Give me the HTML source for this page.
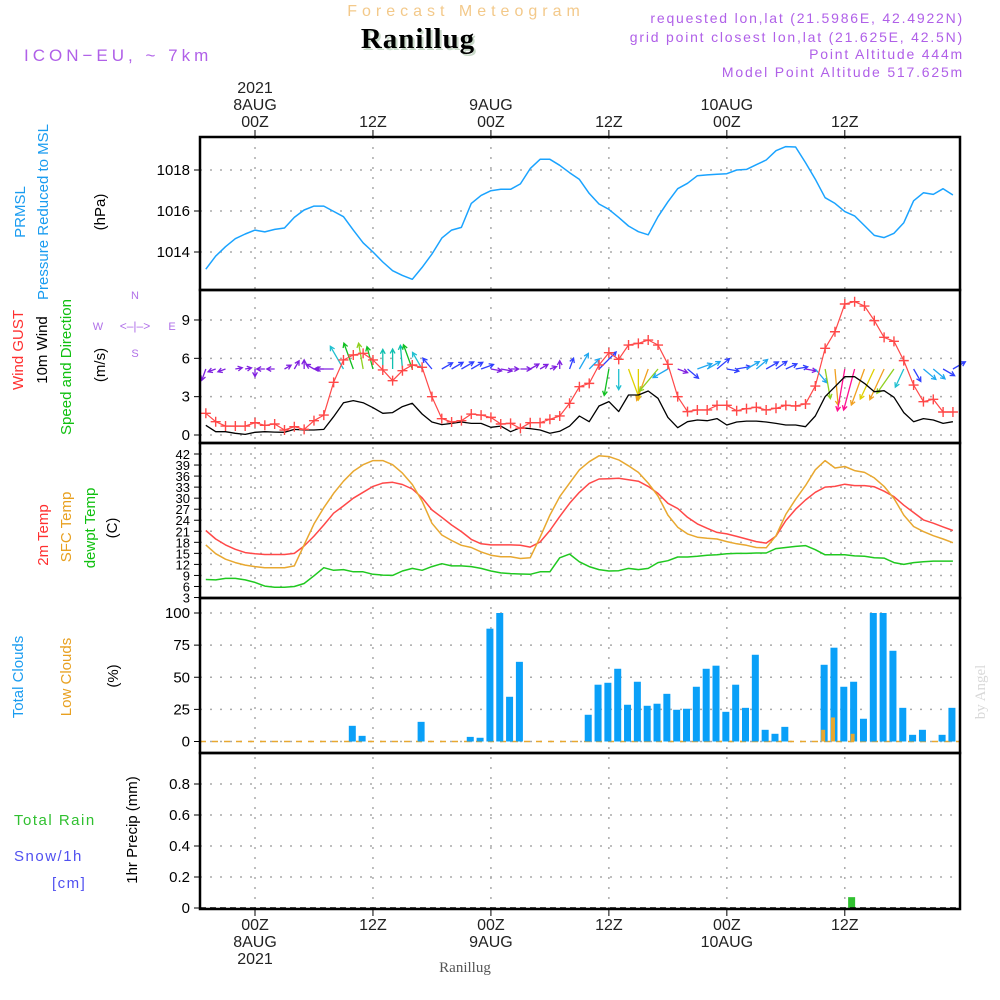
<!DOCTYPE html>
<html><head><meta charset="utf-8"><style>
html,body{margin:0;padding:0;background:#fff;width:1000px;height:1000px;overflow:hidden}
svg{display:block}
text{font-family:"Liberation Sans",sans-serif}
</style></head><body>
<svg id="chart" width="1000" height="1000" viewBox="0 0 1000 1000" xmlns="http://www.w3.org/2000/svg">
<g>
<text x="466" y="16" text-anchor="middle" font-size="16" fill="#f3c98a" letter-spacing="5">Forecast Meteogram</text>
<text x="420" y="50" text-anchor="middle" font-size="29" font-weight="bold" fill="#c9d9c9" letter-spacing="1" style="font-family:'Liberation Serif',serif">Ranillug</text>
<text x="418" y="48" text-anchor="middle" font-size="29" font-weight="bold" fill="#000" letter-spacing="1" style="font-family:'Liberation Serif',serif">Ranillug</text>
<text x="24" y="61" font-size="17" fill="#b060e8" letter-spacing="4">ICON−EU, ~ 7km</text>
<text x="964" y="23" text-anchor="end" font-size="14" fill="#b060e8" letter-spacing="1.8">requested lon,lat (21.5986E, 42.4922N)</text>
<text x="964" y="42" text-anchor="end" font-size="14" fill="#b060e8" letter-spacing="1.8">grid point closest lon,lat (21.625E, 42.5N)</text>
<text x="964" y="59" text-anchor="end" font-size="14" fill="#b060e8" letter-spacing="1.8">Point Altitude 444m</text>
<text x="964" y="77" text-anchor="end" font-size="14" fill="#b060e8" letter-spacing="1.8">Model Point Altitude 517.625m</text>
</g>
<g font-size="15">
<text transform="translate(25,212) rotate(-90)" text-anchor="middle" fill="#1a9cf0">PRMSL</text>
<text transform="translate(48,212) rotate(-90)" text-anchor="middle" fill="#1a9cf0">Pressure Reduced to MSL</text>
<text transform="translate(105,212) rotate(-90)" text-anchor="middle" fill="#000">(hPa)</text>
<text transform="translate(23,350) rotate(-90)" text-anchor="middle" fill="#ff3030">Wind GUST</text>
<text transform="translate(47,350) rotate(-90)" text-anchor="middle" fill="#000">10m Wind</text>
<text transform="translate(71,367) rotate(-90)" text-anchor="middle" fill="#10c010">Speed and Direction</text>
<text transform="translate(105,365) rotate(-90)" text-anchor="middle" fill="#000">(m/s)</text>
<text transform="translate(48,535) rotate(-90)" text-anchor="middle" fill="#ff3030">2m Temp</text>
<text transform="translate(71,527) rotate(-90)" text-anchor="middle" fill="#e8a020">SFC Temp</text>
<text transform="translate(95,528) rotate(-90)" text-anchor="middle" fill="#10c010">dewpt Temp</text>
<text transform="translate(117,528) rotate(-90)" text-anchor="middle" fill="#000">(C)</text>
<text transform="translate(23,677) rotate(-90)" text-anchor="middle" fill="#1a9cf0">Total Clouds</text>
<text transform="translate(71,677) rotate(-90)" text-anchor="middle" fill="#e8a020">Low Clouds</text>
<text transform="translate(118,676) rotate(-90)" text-anchor="middle" fill="#000">(%)</text>
<text x="14" y="825" fill="#30c030" letter-spacing="1.5">Total   Rain</text>
<text x="14" y="861" fill="#5050f0" letter-spacing="1.5">Snow/1h</text>
<text x="52" y="888" fill="#5050f0" letter-spacing="1.5">[cm]</text>
<text transform="translate(137,830) rotate(-90)" text-anchor="middle" fill="#000">1hr Precip (mm)</text>
</g>
<g fill="#b070e8" font-size="11" text-anchor="middle">
<text x="135" y="299">N</text>
<text x="135" y="357">S</text>
<text x="98" y="330">W</text>
<text x="172" y="330">E</text>
<text x="135" y="330" font-size="12">&lt;–|–&gt;</text>
</g>
<text transform="translate(985,692) rotate(-90)" text-anchor="middle" font-size="15" fill="#d8d8d8" style="font-family:'Liberation Serif',serif">by Angel</text>
<text x="465" y="972" text-anchor="middle" font-size="15" fill="#555" style="font-family:'Liberation Serif',serif">Ranillug</text>
<g id="plot"></g>
</svg>
<script>
const hours=[];for(let h=-5;h<=71;h++)hours.push(h);
const pressure=[1013.16,1013.8,1014.26,1014.65,1014.88,1015.07,1014.98,1015.1,1015.17,1015.69,1016.05,1016.24,1016.24,1015.98,1015.72,1015.07,1014.45,1014.0,1013.51,1013.09,1012.86,1012.67,1013.25,1013.9,1014.68,1015.07,1015.2,1016.37,1016.76,1016.99,1017.06,1017.06,1017.32,1018.07,1018.52,1018.52,1018.23,1017.87,1017.54,1016.86,1016.34,1016.08,1015.69,1015.27,1014.99,1014.84,1015.72,1016.45,1017.09,1017.35,1017.72,1017.76,1017.79,1017.82,1018.0,1018.03,1018.26,1018.49,1018.94,1019.14,1019.12,1018.36,1017.55,1016.65,1016.37,1015.97,1015.76,1015.29,1014.81,1014.7,1014.91,1015.43,1016.5,1016.89,1016.81,1017.09,1016.78];
const gust=[1.7,1.04,0.7,0.7,0.7,0.96,0.76,0.86,0.39,0.65,0.44,1.12,1.56,4.12,5.87,6.26,6.39,5.87,5.09,4.25,5.03,5.48,5.3,3.0,1.28,1.02,1.12,1.64,1.56,1.38,0.86,0.91,0.52,0.96,0.96,1.23,1.49,2.48,3.78,4.04,5.48,6.44,5.92,7.04,7.17,7.43,7.04,5.53,3.0,1.83,1.96,1.96,2.32,2.32,1.9,2.06,2.17,1.96,2.09,2.32,2.27,2.43,3.83,6.78,8.08,10.25,10.43,10.09,8.95,7.64,7.33,5.82,3.91,2.61,2.79,1.8,1.8];
const wind=[0.76,0.26,0.26,0.13,0.05,0.21,0.26,0.23,0.21,0.44,0.39,0.39,0.44,1.43,2.53,2.69,2.53,2.14,1.7,1.75,2.22,2.48,1.64,1.02,0.81,0.91,1.02,0.91,0.91,0.6,0.7,0.26,0.57,0.5,0.39,0.13,0.29,0.7,1.49,1.04,2.27,2.61,1.83,3.13,3.13,3.44,2.87,1.38,0.57,1.04,1.17,1.12,1.28,0.78,1.02,1.09,1.09,1.02,0.91,0.78,0.78,0.65,1.49,3.0,3.78,4.56,4.56,4.04,3.39,3.47,2.95,1.75,1.04,1.28,1.17,0.91,1.04];
const windDir=[200,250,250,80,80,180,270,270,60,30,0,300,270,270,330,340,350,345,0,0,355,340,330,320,60,60,60,60,70,100,100,90,90,60,60,70,0,20,30,45,45,190,180,160,180,200,220,240,110,130,70,60,50,100,80,60,50,60,55,65,80,100,140,170,175,190,195,200,205,205,215,205,150,130,130,120,60];
const windColor=["#8020e0","#8020e0","#8020e0","#8020e0","#8020e0","#8020e0","#8020e0","#8020e0","#8020e0","#8020e0","#8020e0","#8020e0","#8020e0","#8020e0","#20c0d0","#10c020","#90d020","#10c020","#10c0b0","#10c0b0","#10c0b0","#10c020","#20c0d0","#3040ff","#3040ff","#3040ff","#3040ff","#3040ff","#3040ff","#8020e0","#8020e0","#8020e0","#8020e0","#8020e0","#8020e0","#8020e0","#8020e0","#3040ff","#20a8f0","#20a8f0","#3040ff","#10c020","#20c0d0","#e0d000","#e0d000","#f0a020","#90d020","#20a8f0","#8020e0","#3040ff","#20a8f0","#20a8f0","#3040ff","#3040ff","#3040ff","#20a8f0","#20a8f0","#3040ff","#3040ff","#3040ff","#3040ff","#8020e0","#20a8f0","#90d020","#f0a020","#ff1090","#ff1090","#f0a020","#e0d000","#f0a020","#90d020","#20c0d0","#3040ff","#20a8f0","#20a8f0","#3040ff","#3040ff"];
const temp2m=[21.2,18.9,17.3,16.1,15.2,14.9,14.7,14.7,14.7,15.0,17.0,19.7,22.7,25.9,27.9,30,31.6,33.2,34.1,34.3,33.7,32.5,30.1,26.8,24.8,22.7,20.9,18.8,17.6,17.3,17.3,17.3,17.2,16.7,18.1,21.2,25,28.6,31.6,34,35.2,35.3,35.4,35,34.6,33.2,31.3,28.6,27.2,24.8,23,21.8,20.7,20.3,19.6,18.9,18.2,17.8,19.7,23.9,27,29.5,31.6,33,33.2,33.8,33.4,33.4,33.1,31.9,30.4,28.1,26.1,24.1,23.2,22.2,21.2];
const tempSfc=[17.3,14.9,13.4,12.5,11.8,11.4,11.1,11.1,11.1,11.6,17.3,23,27.4,31.3,34.6,37.3,39.1,40.2,40.2,39.1,36.8,33.7,29.2,23.2,20,18.5,17.2,16.6,15.4,14.5,14.1,14.1,13.6,13.8,19.4,25.4,30.4,34.1,37.7,39.9,41.5,41.3,40.4,38.8,37,34.1,30.6,25.4,22.1,20.3,19.4,19.1,18.9,18.2,17.6,17.2,16.6,16.5,19.8,25.6,29.7,33.4,37.7,40.2,38.2,38.6,37.5,37,35.5,33.2,29.9,25.4,22.3,20.9,19.8,18.9,17.9];
const dewpt=[7.9,7.8,8.2,8.2,7.8,7.1,6.1,5.8,5.8,6.0,6.8,8.9,11.1,10.4,10.6,10,10,9.3,9.1,9.0,10.2,10.9,10.4,11.4,12.2,11.6,11.6,11.4,10.9,10.2,9.7,9.5,9.4,9.3,10,10,13.8,14.8,12.7,11.4,10.6,10.2,10.3,10.9,10.6,10.9,12.5,13,14,14,14.2,14.5,14.6,14.9,15,15,15.1,15.1,16.3,16.6,16.9,17.1,16,14.6,14.6,14.6,14.3,14.2,13.8,13.7,12.5,12,12.5,12.7,12.9,12.9,12.9];
const totalCloud=[0,0,0,0,0,0,0,0,0,0,0,0,0,0,0,12.2,4.4,0,0,0,0,0,15.3,0,0,0,0,3.6,2.9,87.8,100,34.8,62,0,0,0,0,0,0,20.8,44.2,45.7,56.6,28.6,46.5,27.8,29.4,37.1,24.7,25.5,42.6,56.6,59,23.1,44.2,26.2,67.5,9.1,6,11.4,0,0,0,59.7,73,42.6,46.5,17.7,100,100,70.6,26.2,5.2,9.1,0,5.2,26.2];
const lowCloud=[0,0,0,0,0,0,0,0,0,0,0,0,0,0,0,0,0,0,0,0,0,0,0,0,0,0,0,0,0,0,0,0,0,0,0,0,0,0,0,0,0,0,0,0,0,0,0,0,0,0,0,0,0,0,0,0,0,0,0,0,0,0,0,9.1,18.7,0,6,0,0,0,0,0,0,0,0,0,0];
const precip=[0,0,0,0,0,0,0,0,0,0,0,0,0,0,0,0,0,0,0,0,0,0,0,0,0,0,0,0,0,0,0,0,0,0,0,0,0,0,0,0,0,0,0,0,0,0,0,0,0,0,0,0,0,0,0,0,0,0,0,0,0,0,0,0,0,0,0.07,0,0,0,0,0,0,0,0,0,0];
const pTicks=[1014,1016,1018];
const wTicks=[0,3,6,9];
const tTicks=[42,39,36,33,30,27,24,21,18,15,12,9,6,3];
const cTicks=[0,25,50,75,100];
const rTicks=[0,0.2,0.4,0.6,0.8];
const timeTicks=[0,12,24,36,48,60];
const topLabels=[["2021","8AUG","00Z"],["","","12Z"],["","9AUG","00Z"],["","","12Z"],["","10AUG","00Z"],["","","12Z"]];
const botLabels=[["00Z","8AUG","2021"],["12Z","",""],["00Z","9AUG",""],["12Z","",""],["00Z","10AUG",""],["12Z","",""]];

const NS="http://www.w3.org/2000/svg";
const plot=document.getElementById('plot');
function mk(tag,attrs,parent){const e=document.createElementNS(NS,tag);for(const k in attrs)e.setAttribute(k,attrs[k]);(parent||plot).appendChild(e);return e;}
const L=200,R=960;
const xS=h=>255+h*9.83;
const yP=v=>170+(1018-v)*20.5;
const yW=v=>435-v*12.78;
const yT=v=>454+(42-v)*3.68;
const yC=v=>741.5-v*1.285;
const yR=v=>908-v*155;
const panels=[[137,290],[290,443],[443,598],[598,753],[753,909]];

const grid=mk('g',{});


function hgrid(ticks,fn,fmt){
  ticks.forEach(t=>{const y=fn(t);
    const l=mk('line',{x1:L,x2:R,y1:y,y2:y,stroke:'#aaa','stroke-width':1.5,'stroke-dasharray':'2,8'},grid);
    
    
    const tk=mk('line',{x1:L-6,x2:L,y1:y,y2:y,stroke:'#000','stroke-width':1},grid);
    
    
    const tx=mk('text',{x:L-10,y:y+5,'text-anchor':'end','font-size':fmt.size||15,fill:'#000'},grid);
    tx.textContent=fmt.f(t);
    
    
  });
}
hgrid(pTicks,yP,{f:t=>t});
hgrid(wTicks,yW,{f:t=>t});
hgrid(tTicks,yT,{f:t=>t,size:13});
hgrid(cTicks,yC,{f:t=>t});
hgrid(rTicks,yR,{f:t=>t===0?'0':t.toFixed(1)});
timeTicks.forEach((h,i)=>{const x=xS(h);
  const l=mk('line',{x1:x,x2:x,y1:137,y2:909,stroke:'#aaa','stroke-width':1.5,'stroke-dasharray':'2,8'},grid);
  
  
  mk('line',{x1:x,x2:x,y1:130,y2:137,stroke:'#000'},grid);
  mk('line',{x1:x,x2:x,y1:909,y2:916,stroke:'#000'},grid);
  topLabels[i].forEach((s,j)=>{if(!s)return;const t=mk('text',{x:x,y:93+j*17,'text-anchor':'middle','font-size':16,fill:'#222'},grid);t.textContent=s;
    
    });
  botLabels[i].forEach((s,j)=>{if(!s)return;const t=mk('text',{x:x,y:930+j*17,'text-anchor':'middle','font-size':16,fill:'#222'},grid);t.textContent=s;
    
    });
});

function line(arr,fn,color,name,w){
  const d=arr.map((v,i)=>(i?'L':'M')+xS(hours[i]).toFixed(1)+','+fn(v).toFixed(1)).join('');
  const p=mk('path',{d:d,fill:'none',stroke:color,'stroke-width':w||1.5,'stroke-linejoin':'round'});
  
  
  return p;
}
line(pressure,yP,'#1aa3ff','pressure-line');
const arrows=mk('g',{});


windDir.forEach((dir,i)=>{
  const x0=xS(hours[i]),y0=369,len=6+8*wind[i],a=dir*Math.PI/180;
  const x1=x0+len*Math.sin(a),y1=y0-len*Math.cos(a);
  const hl=5,b1=a+Math.PI-0.5,b2=a+Math.PI+0.5;
  const d=`M${x0},${y0}L${x1},${y1}M${x1+hl*Math.sin(b1)},${y1-hl*Math.cos(b1)}L${x1},${y1}L${x1+hl*Math.sin(b2)},${y1-hl*Math.cos(b2)}`;
  const p=mk('path',{d:d,fill:'none',stroke:windColor[i],'stroke-width':1.3},arrows);
  
  
});
line(wind,yW,'#000','mean-wind-line',1.3);
line(gust,yW,'#ff4848','gust-line',1.2);
gust.forEach((v,i)=>{const x=xS(hours[i]),y=yW(v);
  const p=mk('path',{d:`M${x-5},${y}H${x+5}M${x},${y-5}V${y+5}`,stroke:'#ff4848','stroke-width':1.4});
  
  
});
line(temp2m,yT,'#ff4848','temp-2m-line');
line(tempSfc,yT,'#e8a830','temp-sfc-line');
line(dewpt,yT,'#20c820','dewpoint-line');
mk('line',{x1:L,x2:R,y1:yC(0),y2:yC(0),stroke:'#e8a830','stroke-width':1.5,'stroke-dasharray':'6,6'});
totalCloud.forEach((v,i)=>{if(v<=0)return;const x=xS(hours[i])-1;
  const r=mk('rect',{x:x-3.5,y:yC(v),width:Math.min(7,R-(x-3.5)),height:yC(0)-yC(v),fill:'#0aa0f8'});
  
  });
lowCloud.forEach((v,i)=>{if(v<=0)return;const x=xS(hours[i])-2;
  const r=mk('rect',{x:x-2,y:yC(v),width:4,height:yC(0)-yC(v),fill:'#e8a830'});
  
  });
precip.forEach((v,i)=>{if(v<=0)return;const x=xS(hours[i])-3;
  const r=mk('rect',{x:x-3.5,y:yR(v),width:7,height:yR(0)-yR(v),fill:'#30c030'});
  
  });
mk('line',{x1:L,x2:R,y1:908,y2:908,stroke:'#000','stroke-width':1.5,'stroke-dasharray':'6,4'});
panels.forEach(([a,b])=>{const r=mk('rect',{x:L,y:a,width:R-L,height:b-a,fill:'none',stroke:'#000','stroke-width':2.5});
  
  });
</script>
</body></html>
